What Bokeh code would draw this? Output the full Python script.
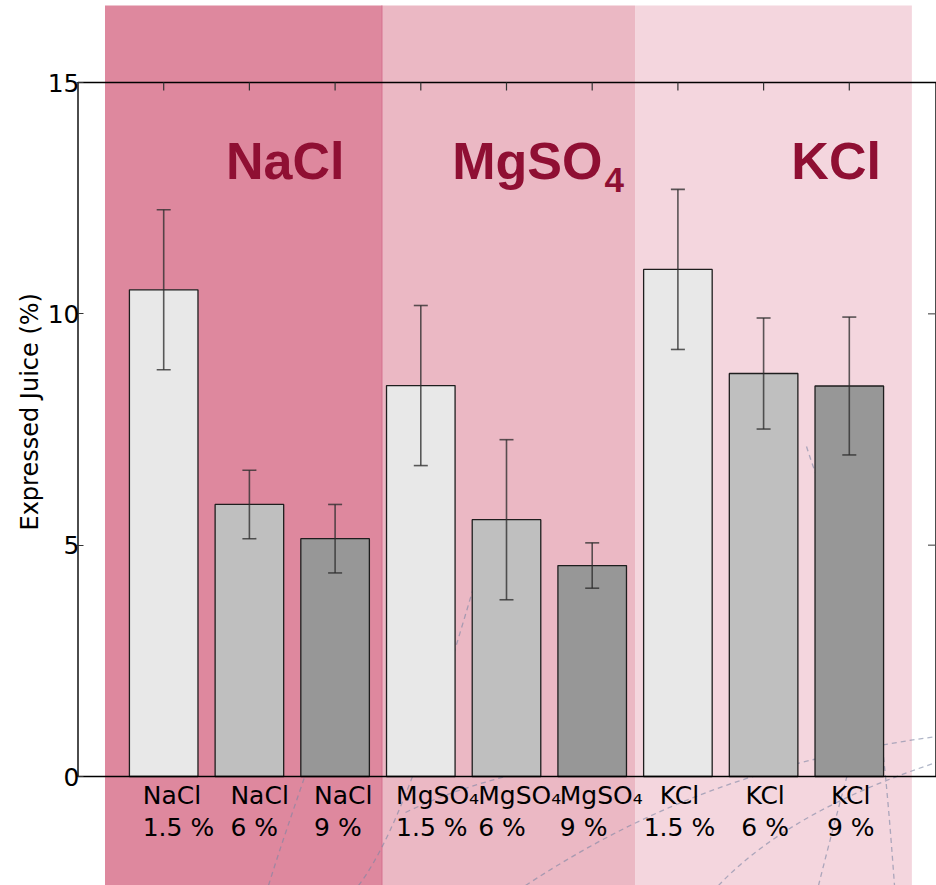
from bokeh.plotting import figure
from bokeh.models import Range1d, FixedTicker, Title
from bokeh.core.properties import value
from bokeh.embed import file_html
from bokeh.resources import INLINE

# ---- data -------------------------------------------------------------
salts = ["NaCl", "NaCl", "NaCl", "MgSO₄", "MgSO₄", "MgSO₄", "KCl", "KCl", "KCl"]
concentrations = ["1.5 %", "6 %", "9 %", "1.5 %", "6 %", "9 %", "1.5 %", "6 %", "9 %"]
juice = [10.52, 5.88, 5.14, 8.45, 5.55, 4.56, 10.96, 8.71, 8.44]
juice_err = [1.73, 0.74, 0.74, 1.73, 1.73, 0.49, 1.73, 1.20, 1.49]
y_ticks = [0, 5, 10, 15]
group_titles = ["NaCl", "MgSO", "KCl"]

# ---- geometry / style -------------------------------------------------
W, H = 936, 885
FRAME_LEFT = 76                 # pixel column where the plot frame starts
PX_X = 85.7                     # pixels per bar slot
PX_Y = 46.267                   # pixels per unit of juice
X_SPINE_PX = 77.5               # left spine position in pixels
Y_TOP_PX = 82                   # pixel row of the 15 % line
BASE_SHIFT = 0.40               # glyph baseline correction, in em

x_start = -1 - (X_SPINE_PX - FRAME_LEFT) / PX_X
x_end = x_start + (W - FRAME_LEFT) / PX_X
y_end = 15 + Y_TOP_PX / PX_Y
y_start = y_end - H / PX_Y


def dx(px):
    """horizontal pixel column -> data x"""
    return x_start + (px - FRAME_LEFT) / PX_X


def dy(py):
    """vertical pixel row -> data y"""
    return y_end - py / PX_Y


bar_fill = ["#e8e8e8", "#bfbfbf", "#979797"]
band_edges = [-0.685, 2.547, 5.50, 8.73]
band_colors = ["#de889e", "#ebb8c4", "#f4d6de"]
band_top = dy(5)
title_color = "#8f0f33"
title_x = [0.727, 3.367, 7.324]
label_font = "DejaVu Sans"
label_dx_px = [-21, -19, -21, -24.7, -28.3, -32.4, 1.5, 1.5, 1.5]
label_left = [True] * 6 + [False] * 3
YLABEL_SIZE = 24
YLABEL_CENTER_PX = 411          # vertical centre of the rotated axis title

# faint dashed vein pattern behind the bars (cubic curves, pixel space)
veins = [
    (268, 885, 285, 830, 300, 790, 330, 700),
    (358, 885, 400, 830, 440, 700, 478, 570),
    (405, 812, 440, 795, 470, 785, 520, 772),
    (525, 885, 640, 810, 760, 760, 936, 736),
    (718, 885, 770, 830, 850, 790, 936, 762),
    (818, 885, 828, 845, 840, 800, 848, 770),
    (880, 730, 886, 780, 890, 830, 894, 885),
    (806, 446, 809, 455, 812, 465, 818, 480),
]

xs = list(range(len(juice)))

p = figure(width=W, height=H, x_range=Range1d(x_start, x_end),
           y_range=Range1d(y_start, y_end), output_backend="svg",
           toolbar_location=None, x_axis_location=None,
           min_border_left=FRAME_LEFT, min_border_right=0,
           min_border_top=0, min_border_bottom=0)
p.outline_line_color = None
p.grid.visible = False
p.background_fill_color = "white"
p.border_fill_color = "white"

# left axis: labels only, inward ticks
ax = p.yaxis[0]
ax.ticker = FixedTicker(ticks=y_ticks)
ax.minor_tick_line_color = None
ax.major_tick_in = 7
ax.major_tick_out = 0
ax.major_tick_line_color = "#333333"
ax.major_tick_line_width = 1.2
ax.axis_line_color = None
ax.major_label_standoff = -3
ax.major_label_text_font = label_font
ax.major_label_text_font_size = "25px"
ax.major_label_text_color = "black"

# rotated axis title, anchored from the bottom of the panel
ylabel_text = "Expressed Juice (%)"
ylabel_len = 9.915 * YLABEL_SIZE      # advance width of the string in DejaVu Sans
p.add_layout(Title(text=ylabel_text, align="left",
                   offset=int(H - (YLABEL_CENTER_PX + ylabel_len / 2)),
                   text_font=label_font, text_font_size=f"{YLABEL_SIZE}px",
                   text_font_style="normal", text_color="black", standoff=2),
             "left")

# coloured salt bands behind everything
p.quad(left=band_edges[:-1], right=band_edges[1:], bottom=y_start, top=band_top,
       fill_color=band_colors, line_color=None)
p.segment(x0=band_edges[1], x1=band_edges[1], y0=y_start, y1=band_top,
          line_color="#d66f8c", line_width=1)

# dashed veins
p.bezier(x0=[dx(v[0]) for v in veins], y0=[dy(v[1]) for v in veins],
         cx0=[dx(v[2]) for v in veins], cy0=[dy(v[3]) for v in veins],
         cx1=[dx(v[4]) for v in veins], cy1=[dy(v[5]) for v in veins],
         x1=[dx(v[6]) for v in veins], y1=[dy(v[7]) for v in veins],
         line_color="#7c86a4", line_alpha=0.6, line_width=1.3,
         line_dash="5 4")

# bars
p.vbar(x=xs, top=juice, bottom=0, width=0.8,
       fill_color=[bar_fill[i % 3] for i in xs],
       line_color="#1e1e1e", line_width=1.3)

# error bars
lo = [v - e for v, e in zip(juice, juice_err)]
hi = [v + e for v, e in zip(juice, juice_err)]
cap = 7 / PX_X
err_style = dict(line_color="#2e2e2e", line_alpha=0.78, line_width=1.6)
p.segment(x0=xs, x1=xs, y0=lo, y1=hi, **err_style)
p.segment(x0=[x - cap for x in xs], x1=[x + cap for x in xs], y0=hi, y1=hi,
          **err_style)
p.segment(x0=[x - cap for x in xs], x1=[x + cap for x in xs], y0=lo, y1=lo,
          **err_style)

# axes box
xl, xr = -1, 9 + 1 / PX_X
p.segment(x0=[xl, xl, xl, xr], x1=[xr, xr, xl, xr],
          y0=[0, 15, 0, 0], y1=[0, 15, 15, 15],
          line_color="black", line_width=1.4)
# inward ticks on top and right
tick_len_y = 8 / PX_Y
p.segment(x0=xs, x1=xs, y0=15, y1=15 - tick_len_y, line_color="#333333",
          line_width=1.2)
inner = [t for t in y_ticks if 0 < t < 15]
p.segment(x0=xr, x1=xr - 8 / PX_X, y0=inner, y1=inner, line_color="#555555",
          line_width=1.2)

# category labels under the bars (two lines each)
LBL = 25
line1_y = dy(805 - BASE_SHIFT * LBL)
line2_y = dy(836.7 - BASE_SHIFT * LBL)
for want_left, align in ((True, "left"), (False, "center")):
    idx = [i for i in xs if label_left[i] == want_left]
    lx = [i + label_dx_px[i] / PX_X for i in idx]
    p.text(x=lx, y=line1_y, text=[salts[i] for i in idx], text_align=align,
           text_baseline="alphabetic", text_font=value(label_font),
           text_font_size=f"{LBL}px", text_color="black")
    p.text(x=lx, y=line2_y, text=[concentrations[i] for i in idx],
           text_align=align, text_baseline="alphabetic",
           text_font=value(label_font), text_font_size=f"{LBL}px",
           text_color="black")

# salt group headings
HEAD, SUB = 52, 35
p.text(x=title_x, y=dy(181.7 - BASE_SHIFT * HEAD), text=group_titles,
       text_align="left", text_baseline="alphabetic",
       text_font=value("Liberation Sans"), text_font_style="bold",
       text_font_size=f"{HEAD}px", text_color=title_color)
p.text(x=[dx(604)], y=[dy(193.3 - BASE_SHIFT * SUB)], text=["4"],
       text_align="left", text_baseline="alphabetic",
       text_font=value("Liberation Sans"), text_font_style="bold",
       text_font_size=f"{SUB}px", text_color=title_color)

open("out.html", "w").write(file_html(p, INLINE))
